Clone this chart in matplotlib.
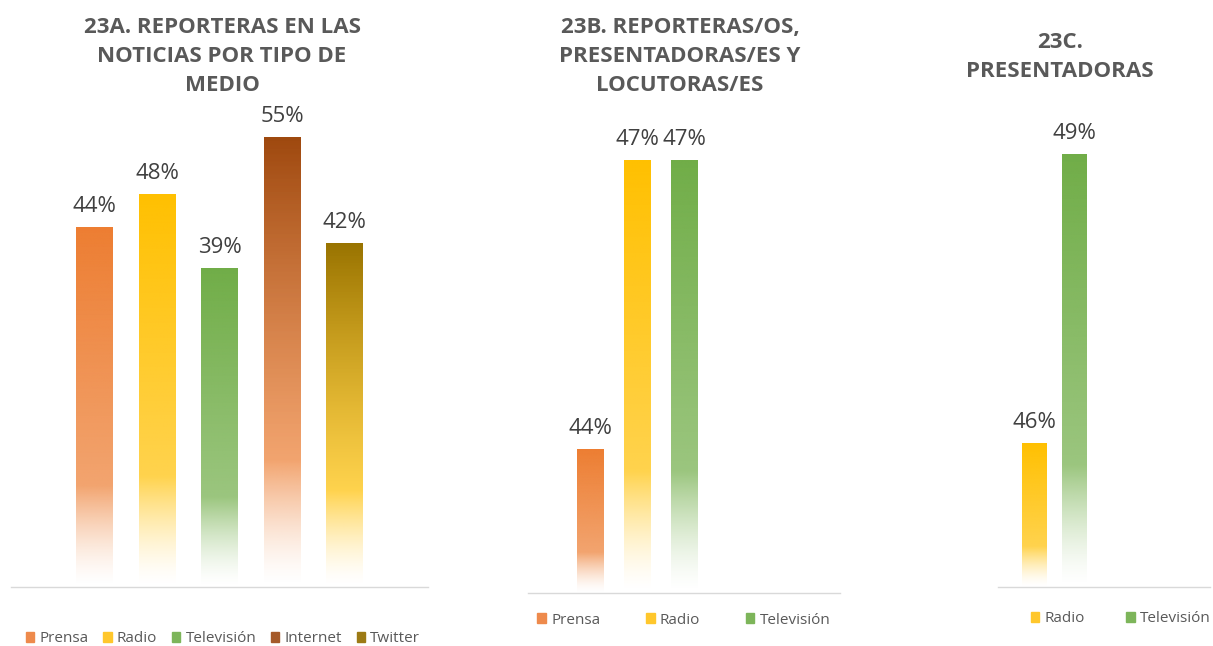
import matplotlib
matplotlib.use("Agg")
import matplotlib.patches as mpatches
import matplotlib.pyplot as plt
import numpy as np
from matplotlib.colors import to_rgb

plt.rcParams["font.family"] = ["Open Sans", "DejaVu Sans"]

# =============================================================================
# DATA
# =============================================================================
TITLE_A = "23A. REPORTERAS EN LAS\nNOTICIAS POR TIPO DE\nMEDIO"
TITLE_B = "23B. REPORTERAS/OS,\nPRESENTADORAS/ES Y\nLOCUTORAS/ES"
TITLE_C = "23C.\nPRESENTADORAS"

cats_a = ["Prensa", "Radio", "Televisión", "Internet", "Twitter"]
vals_a = [44, 48, 39, 55, 42]

cats_b = ["Prensa", "Radio", "Televisión"]
vals_b = [44, 47, 47]

cats_c = ["Radio", "Televisión"]
vals_c = [46, 49]

# top colour, colour where the fade to white starts
COLORS = {
    "Prensa":     ("#ED7D31", "#ED7D31"),
    "Radio":      ("#FFC000", "#FFC000"),
    "Televisión": ("#70AD47", "#70AD47"),
    "Internet":   ("#9E480E", "#ED7D31"),
    "Twitter":    ("#997300", "#FFC000"),
}
LEGEND_COLORS = {
    "Prensa": "#EE8A4C", "Radio": "#FFC72C", "Televisión": "#7DB55A",
    "Internet": "#A55A2A", "Twitter": "#9C7A14",
}

TITLE_COLOR = "#595959"
LABEL_COLOR = "#404040"
AXIS_COLOR = "#D9D9D9"

W, H = 1213, 646
FADE_START = 0.72


def px_axes(fig, left, right, bottom, top):
    return fig.add_axes([left / W, 1 - bottom / H, (right - left) / W, (bottom - top) / H])


def gradient_bar(ax, x, width, base, value, cat):
    top_c, mid_c = COLORS[cat]
    n = 300
    d = 1 - np.linspace(0, 1, n)  # distance from top, fraction
    top_rgb = np.array(to_rgb(top_c))
    mid_rgb = np.array(to_rgb(mid_c))
    img = np.zeros((n, 1, 4))
    for i, di in enumerate(d):
        if di <= FADE_START:
            f = di / FADE_START
            rgb = top_rgb * (1 - f) + mid_rgb * f
            a = 1 - 0.3 * f
        else:
            f = (di - FADE_START) / (1 - FADE_START)
            rgb = mid_rgb
            a = 0.7 * (1 - f) ** 1.5
        img[i, 0, :3] = rgb
        img[i, 0, 3] = a
    bar = ax.bar(x, value - base, width=width, bottom=base, color="none", linewidth=0)[0]
    im = ax.imshow(img, extent=[x - width / 2, x + width / 2, base, value],
                   origin="lower", aspect="auto", interpolation="bilinear", zorder=2)
    im.set_clip_path(bar)
    ax.annotate(f"{value}%", (x, value), xytext=(0, 7), textcoords="offset points",
                ha="center", va="bottom", fontsize=16, color=LABEL_COLOR)


def style_axes(ax):
    for s in ["top", "right", "left"]:
        ax.spines[s].set_visible(False)
    ax.spines["bottom"].set_color(AXIS_COLOR)
    ax.spines["bottom"].set_linewidth(1.0)
    ax.set_xticks([])
    ax.set_yticks([])


def draw_panel(fig, box, cats, vals, base, scale_px, width, xlim, title, title_xy):
    left, right, bottom, top = box
    ax = px_axes(fig, left, right, bottom, top)
    for i, (c, v) in enumerate(zip(cats, vals)):
        gradient_bar(ax, i, width, base, v, c)
    ax.set_xlim(*xlim)
    ax.set_ylim(base, base + (bottom - top) / scale_px)
    style_axes(ax)
    fig.text(title_xy[0] / W, 1 - title_xy[1] / H, title, ha="center", va="top",
             fontsize=16, fontweight="bold", color=TITLE_COLOR, linespacing=1.5)
    return ax


def add_legend(fig, cats, cx, cy, colspacing):
    handles = [mpatches.Patch(color=LEGEND_COLORS[c], label=c) for c in cats]
    fig.legend(handles=handles, loc="center", bbox_to_anchor=(cx / W, 1 - cy / H),
               ncol=len(cats), frameon=False, fontsize=11, handlelength=0.55,
               handleheight=0.55, handletextpad=0.35, columnspacing=colspacing,
               labelcolor=TITLE_COLOR)


fig = plt.figure(figsize=(W / 100, H / 100), dpi=100)

draw_panel(fig, (11, 428, 587, 100), cats_a, vals_a, 0, 8.19, 0.59,
           (-1.336, 5.336), TITLE_A, (222, 17))
draw_panel(fig, (528, 840, 593, 100), cats_b, vals_b, 42.5, 96.33, 0.574,
           (-1.33, 5.33), TITLE_B, (680, 17))
draw_panel(fig, (998, 1210, 587, 100), cats_c, vals_c, 44.5, 96.33, 0.625,
           (-0.9125, 4.3875), TITLE_C, (1060, 32))

add_legend(fig, cats_a, 223, 639, 0.95)
add_legend(fig, cats_b, 684, 620, 3.0)
add_legend(fig, cats_c, 1121, 619, 2.7)

fig.savefig("out.png", dpi=100)
